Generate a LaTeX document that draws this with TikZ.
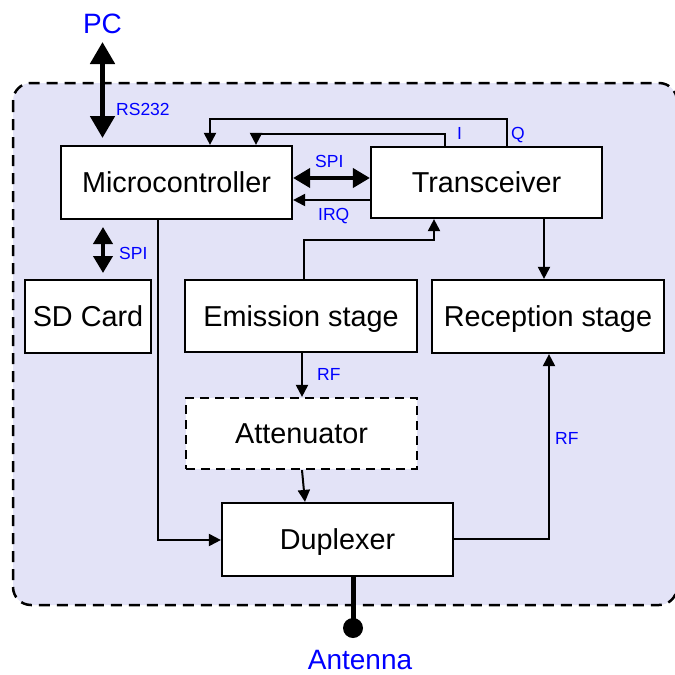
\documentclass[tikz,border=0pt]{standalone}
\usepackage{fontspec}
\setmainfont{Liberation Sans}
\usetikzlibrary{arrows.meta}
\definecolor{bgfill}{RGB}{227,227,247}
\definecolor{lblue}{RGB}{0,0,255}
\begin{document}
\begin{tikzpicture}[x=1pt,y=-1pt,
  blk/.style={draw,line width=2.2pt,fill=white,inner sep=0pt,
    font=\fontsize{28.8}{30}\selectfont,text height=20.6pt,text depth=0pt,
    minimum width=231pt,minimum height=73pt},
  big/.style={text=lblue,font=\fontsize{28}{30}\selectfont,inner sep=0pt,anchor=base},
  small/.style={text=lblue,font=\fontsize{17.5}{18}\selectfont,inner sep=0pt,anchor=base west},
  thinarr/.style={line width=2pt,-{Triangle[length=12pt,width=12pt]}},
  midarr/.style={line width=4pt,{Triangle[length=17pt,width=19pt]}-{Triangle[length=17pt,width=19pt]}},
  bigarr/.style={line width=5pt,{Triangle[length=22pt,width=24pt]}-{Triangle[length=22pt,width=24pt]}},
  plain/.style={line width=2pt}]
\useasboundingbox (0,0) rectangle (675,675);
% background
\draw[fill=bgfill,line width=2.5pt,dash pattern=on 11pt off 7pt,rounded corners=18pt]
  (13,83) rectangle (677,605);
% blocks
\node[blk] (mc) at (176.5,182.5) {Microcontroller};
\node[blk,minimum height=71pt] (tr) at (486.5,182.5) {Transceiver};
\node[blk,minimum width=126pt] (sd) at (88,316.5) {SD Card};
\node[blk,minimum width=232pt,minimum height=72pt] (em) at (301,316) {Emission stage};
\node[blk,minimum width=232pt] (rc) at (548,316.5) {Reception stage};
\node[blk,minimum height=71pt,dash pattern=on 9pt off 6pt] (at) at (301.5,433.5) {Attenuator};
\node[blk] (dp) at (337.5,539.5) {Duplexer};
% outside labels
\node[big] (pc) at (102.5,33) {PC};
\node[big] (antl) at (360,669) {Antenna};
% PC link
\coordinate (pcT) at (102.5,42);
\coordinate (pcB) at (102.5,138);
\draw[bigarr] (pcT) -- (pcB);
\node[small] (rs) at (116,115) {RS232};
% Q and I loops
\coordinate (q1) at (507,119);
\coordinate (q2) at (210,119);
\draw[thinarr] (q1 |- tr.north) -- (q1) -- (q2) -- (q2 |- mc.north);
\coordinate (i1) at (445,134);
\coordinate (i2) at (256,134);
\draw[thinarr] (i1 |- tr.north) -- (i1) -- (i2) -- (i2 |- mc.north);
\node[small] (il) at (457,139) {I};
\node[small] (ql) at (511,139) {Q};
% SPI transceiver
\coordinate (spiY) at (0,178);
\draw[midarr] (mc.east |- spiY) -- (tr.west |- spiY);
\node[small] (spi1) at (315,167) {SPI};
% IRQ
\coordinate (irqY) at (0,200);
\draw[thinarr] (tr.west |- irqY) -- (mc.east |- irqY);
\node[small] (irq) at (318,220) {IRQ};
% SD SPI
\coordinate (sd1) at (103,227);
\coordinate (sd2) at (103,273);
\draw[midarr] (sd1) -- (sd2);
\node[small] (spi2) at (119,259) {SPI};
% Emission -> Transceiver
\coordinate (e1) at (304,240);
\coordinate (e2) at (434,240);
\draw[thinarr] (em.north -| e1) -- (e1) -- (e2) -- (e2 |- tr.south);
% Transceiver -> Reception
\coordinate (r1) at (544,250);
\draw[thinarr] (tr.south -| r1) -- (rc.north -| r1);
% Microcontroller -> Duplexer
\coordinate (m1) at (158,540);
\draw[thinarr] (mc.south -| m1) -- (m1) -- (m1 -| dp.west);
% Emission -> Attenuator
\coordinate (x2) at (302,380);
\draw[thinarr] (em.south -| x2) -- (at.north -| x2);
\node[small] (rf1) at (317,380) {RF};
% Attenuator -> Duplexer
\coordinate (a1) at (302,480);
\coordinate (a2) at (305,490);
\draw[thinarr] (at.south -| a1) -- (dp.north -| a2);
% Duplexer -> Reception
\coordinate (d1) at (549,539);
\draw[thinarr] (dp.east |- d1) -- (d1) -- (rc.south -| d1);
\node[small] (rf2) at (555,444) {RF};
% Antenna
\node[circle,fill=black,minimum size=20pt,inner sep=0pt] (ant) at (353,628) {};
\draw[line width=5pt] (dp.south -| ant) -- (ant.center);
\end{tikzpicture}
\end{document}
